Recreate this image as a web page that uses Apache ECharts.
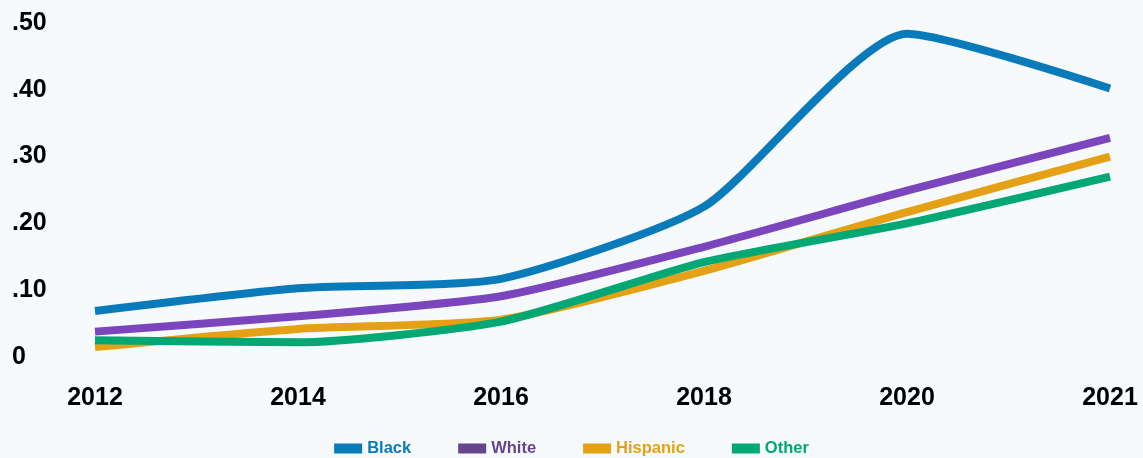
<!DOCTYPE html>
<html>
<head>
<meta charset="utf-8">
<script src="https://cdn.jsdelivr.net/npm/echarts@6/dist/echarts.min.js"></script>
<style>
html,body{margin:0;padding:0;background:#f7fafd;}
#chart{width:1143px;height:458px;}
</style>
</head>
<body>
<div id="chart"></div>
<script>
const years = ['2012', '2014', '2016', '2018', '2020', '2021'];
const black = [0.069, 0.103, 0.117, 0.225, 0.484, 0.402];
const white = [0.038, 0.061, 0.091, 0.165, 0.249, 0.328];
const hispanic = [0.015, 0.042, 0.056, 0.129, 0.217, 0.300];
const other = [0.025, 0.022, 0.053, 0.142, 0.200, 0.270];
const yTicks = [0, 0.1, 0.2, 0.3, 0.4, 0.5];

const colors = {
  Black: '#0a7bba',
  White: '#7b45bd',
  Hispanic: '#e5a115',
  Other: '#02a874'
};
const legendColors = {
  Black: '#0a7bba',
  White: '#66458c',
  Hispanic: '#e5a115',
  Other: '#02a874'
};

const chart = echarts.init(document.getElementById('chart'));
function mk(name, data) {
  return {
    name: name,
    type: 'line',
    data: data,
    smooth: 0.2,
    showSymbol: false,
    symbol: 'none',
    lineStyle: { width: 8, color: colors[name], cap: 'butt' },
    itemStyle: { color: colors[name] }
  };
}
chart.setOption({
  backgroundColor: '#f7fafd',
  animation: false,
  grid: { left: 95, right: 33, top: 23, bottom: 101 },
  xAxis: {
    type: 'category',
    data: years,
    boundaryGap: false,
    axisLine: { show: false },
    axisTick: { show: false },
    axisLabel: {
      color: '#000',
      fontWeight: 'bold',
      fontSize: 25,
      fontFamily: 'Liberation Sans, Arial, sans-serif',
      margin: 29
    }
  },
  yAxis: {
    type: 'value',
    min: 0,
    max: 0.5,
    interval: 0.1,
    splitLine: { show: false },
    axisLine: { show: false },
    axisTick: { show: false },
    axisLabel: {
      color: '#000',
      fontWeight: 'bold',
      fontSize: 25,
      fontFamily: 'Liberation Sans, Arial, sans-serif',
      align: 'left',
      margin: 83,
      formatter: function (v) {
        const t = yTicks.find(x => Math.abs(x - v) < 1e-9);
        if (t === 0) return '0';
        return '.' + (t * 100).toFixed(0);
      }
    }
  },
  legend: {
    top: 440,
    left: 'center',
    padding: 0,
    itemWidth: 28,
    itemHeight: 10,
    itemGap: 47,
    icon: 'rect',
    textStyle: {
      fontWeight: 'bold',
      fontSize: 16.5,
      fontFamily: 'Liberation Sans, Arial, sans-serif'
    },
    data: ['Black', 'White', 'Hispanic', 'Other'].map(n => ({
      name: n,
      itemStyle: { color: legendColors[n] },
      textStyle: { color: legendColors[n] }
    }))
  },
  series: [
    mk('Black', black),
    mk('White', white),
    mk('Hispanic', hispanic),
    mk('Other', other)
  ]
});
</script>
</body>
</html>
